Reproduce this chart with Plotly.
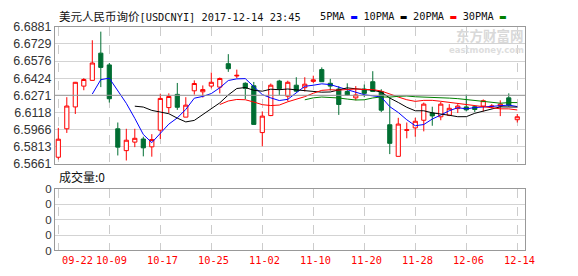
import plotly.graph_objects as go
import pandas as pd

W, H = 578, 276

dates = [
    "2017-09-22", "2017-09-25", "2017-09-26", "2017-09-27", "2017-09-28", "2017-09-29",
    "2017-10-09", "2017-10-10", "2017-10-11", "2017-10-12", "2017-10-13", "2017-10-16",
    "2017-10-17", "2017-10-18", "2017-10-19", "2017-10-20", "2017-10-23", "2017-10-24",
    "2017-10-25", "2017-10-26", "2017-10-27", "2017-10-30", "2017-10-31", "2017-11-01",
    "2017-11-02", "2017-11-03", "2017-11-06", "2017-11-07", "2017-11-08", "2017-11-09",
    "2017-11-10", "2017-11-13", "2017-11-14", "2017-11-15", "2017-11-16", "2017-11-17",
    "2017-11-20", "2017-11-21", "2017-11-22", "2017-11-23", "2017-11-24", "2017-11-27",
    "2017-11-28", "2017-11-29", "2017-11-30", "2017-12-01", "2017-12-04", "2017-12-05",
    "2017-12-06", "2017-12-07", "2017-12-08", "2017-12-11", "2017-12-12", "2017-12-13",
    "2017-12-14",
]
opens = [
    6.5718, 6.5972, 6.6167, 6.6353, 6.6404, 6.6647, 6.6542, 6.5972, 6.5777, 6.5853,
    6.5881, 6.5811, 6.5960, 6.6161, 6.6279, 6.6076, 6.6311, 6.6302, 6.6353, 6.6344,
    6.6553, 6.6443, 6.6378, 6.6356, 6.5938, 6.6090, 6.6398, 6.6263, 6.6361, 6.6339,
    6.6395, 6.6500, 6.6378, 6.6327, 6.6305, 6.6248, 6.6327, 6.6392, 6.6305, 6.6008,
    6.5726, 6.5958, 6.5980, 6.6048, 6.6113, 6.6079, 6.6093, 6.6152, 6.6167, 6.6169,
    6.6175, 6.6169, 6.6175, 6.6248, 6.6053,
]
highs = [
    6.5980, 6.6254, 6.6390, 6.6424, 6.6762, 6.6839, 6.6559, 6.6028, 6.5972, 6.5972,
    6.5901, 6.5924, 6.6285, 6.6288, 6.6381, 6.6254, 6.6404, 6.6359, 6.6474, 6.6429,
    6.6638, 6.6500, 6.6387, 6.6390, 6.6127, 6.6376, 6.6409, 6.6401, 6.6432, 6.6432,
    6.6446, 6.6520, 6.6418, 6.6353, 6.6378, 6.6353, 6.6367, 6.6486, 6.6325, 6.6254,
    6.6070, 6.6028, 6.6070, 6.6206, 6.6169, 6.6212, 6.6192, 6.6192, 6.6277, 6.6175,
    6.6234, 6.6192, 6.6226, 6.6288, 6.6104,
]
lows = [
    6.5698, 6.5935, 6.6104, 6.6316, 6.6404, 6.6344, 6.6206, 6.5734, 6.5689, 6.5808,
    6.5726, 6.5723, 6.5881, 6.6113, 6.6141, 6.6076, 6.6277, 6.6251, 6.6333, 6.6288,
    6.6480, 6.6424, 6.6237, 6.6011, 6.5816, 6.6085, 6.6274, 6.6217, 6.6300, 6.6305,
    6.6381, 6.6390, 6.6313, 6.6096, 6.6270, 6.6226, 6.6254, 6.6300, 6.6121, 6.5746,
    6.5726, 6.5887, 6.5901, 6.5949, 6.5999, 6.6048, 6.6085, 6.6113, 6.6127, 6.6121,
    6.6127, 6.6155, 6.6085, 6.6169, 6.6028,
]
closes = [
    6.5879, 6.6175, 6.6387, 6.6412, 6.6559, 6.6520, 6.6240, 6.5808, 6.5870, 6.5887,
    6.5802, 6.5876, 6.6243, 6.6260, 6.6164, 6.6183, 6.6376, 6.6322, 6.6387, 6.6421,
    6.6508, 6.6449, 6.6333, 6.6011, 6.6085, 6.6361, 6.6330, 6.6387, 6.6308, 6.6370,
    6.6409, 6.6392, 6.6353, 6.6189, 6.6274, 6.6274, 6.6288, 6.6305, 6.6138, 6.5842,
    6.6014, 6.5963, 6.6039, 6.6192, 6.6087, 6.6192, 6.6155, 6.6175, 6.6141, 6.6144,
    6.6223, 6.6175, 6.6192, 6.6183, 6.6079,
]
volumes = [
    0, 0, 0, 0, 0, 0, 0, 0, 0, 0, 0, 0, 0, 0, 0, 0, 0, 0, 0, 0, 0, 0, 0, 0, 0, 0, 0, 0,
    0, 0, 0, 0, 0, 0, 0, 0, 0, 0, 0, 0, 0, 0, 0, 0, 0, 0, 0, 0, 0, 0, 0, 0, 0, 0, 0,
]
ma_windows = [5, 10, 20, 30]
ma_names = ["5PMA", "10PMA", "20PMA", "30PMA"]
ma_colors = ["#0000ff", "#000000", "#ff0000", "#008000"]
price_ticks = [6.5661, 6.5813, 6.5966, 6.6118, 6.6271, 6.6424, 6.6576, 6.6729, 6.6881]
price_labels = ["6.5661", "6.5813", "6.5966", "6.6118", "6.6271", "6.6424", "6.6576", "6.6729", "6.6881"]
date_ticks = dates[::6]
date_labels = [d[5:] for d in date_ticks]
vol_ticks = [0, 1, 2, 3, 4]
vol_labels = ["0", "0", "0", "0", "0"]
title_cn = "美元人民币询价"
title_code = "[USDCNYI] 2017-12-14 23:45"
vol_title = "成交量:0"

RED = "#ff0000"
GREEN = "#006e32"
GRID = "#d3d3d3"
FRAME = "#999999"
TXT = "#333333"
MONO = "DejaVu Sans Mono"
CJK = "Noto Sans CJK SC"

X0, X1 = 55, 525
XR = [-0.39, 54.91]

fig = go.Figure()
fig.add_trace(go.Candlestick(
    x=dates, open=opens, high=highs, low=lows, close=closes,
    increasing=dict(line=dict(color=RED, width=1), fillcolor="#ffffff"),
    decreasing=dict(line=dict(color=GREEN, width=1), fillcolor=GREEN),
    whiskerwidth=0, xaxis="x", yaxis="y", showlegend=False, hoverinfo="skip",
))
close_s = pd.Series(closes)
for w, name, col in zip(ma_windows, ma_names, ma_colors):
    fig.add_trace(go.Scatter(
        x=dates, y=close_s.rolling(w).mean(), mode="lines", name=name,
        line=dict(color=col, width=1), xaxis="x", yaxis="y",
        showlegend=False, hoverinfo="skip",
    ))
fig.add_trace(go.Bar(x=dates, y=volumes, xaxis="x2", yaxis="y2",
                     marker_color=RED, showlegend=False, hoverinfo="skip"))

xcommon = dict(
    type="category", range=XR, tickvals=date_ticks, showticklabels=False,
    showgrid=True, griddash="dash", gridcolor="#cccccc", gridwidth=1,
    showline=True, mirror=True, linecolor=FRAME, linewidth=1, ticks="",
    zeroline=False, domain=[X0 / W, X1 / W], fixedrange=True,
)
fig.update_layout(
    width=W, height=H, margin=dict(l=0, r=0, t=0, b=0),
    paper_bgcolor="#ffffff", plot_bgcolor="#ffffff",
    boxgap=0.3,
    xaxis=dict(**xcommon, anchor="y", rangeslider=dict(visible=False)),
    xaxis2=dict(**xcommon, anchor="y2", matches="x"),
    yaxis=dict(
        domain=[(H - 165) / H, (H - 21) / H], range=[price_ticks[0], price_ticks[-1]],
        tickvals=price_ticks, ticktext=price_labels, showgrid=True, gridcolor=GRID,
        showline=True, mirror=True, linecolor=FRAME, linewidth=1, ticks="",
        zeroline=False, tickfont=dict(family="Liberation Sans", size=12.5, color=TXT),
        anchor="x", fixedrange=True,
    ),
    yaxis2=dict(
        domain=[(H - 256.5) / H, (H - 191.5) / H], range=[vol_ticks[0], vol_ticks[-1]],
        tickvals=vol_ticks, ticktext=vol_labels, showgrid=True, gridcolor=GRID,
        showline=True, mirror=True, linecolor=FRAME, linewidth=1, ticks="",
        zeroline=False, tickfont=dict(family="Liberation Sans", size=11.5, color=TXT),
        anchor="x2", fixedrange=True,
    ),
    showlegend=False,
)

# darker middle reference line
fig.add_shape(type="line", xref="x domain", yref="y", x0=0, x1=1,
              y0=price_ticks[4], y1=price_ticks[4], line=dict(color=FRAME, width=1))

# x tick labels (red)
for i, (d, lab) in enumerate(zip(date_ticks, date_labels)):
    fig.add_annotation(
        x=d, xref="x2", y=(H - 267) / H, yref="paper", text=lab, showarrow=False,
        xanchor="left" if i == 0 else "center", xshift=1.7 if i == 0 else 2,
        yanchor="middle", font=dict(family=MONO, size=10.3, color=RED),
    )

# title
fig.add_annotation(
    x=57 / W, xref="paper", y=(H - 10) / H, yref="paper", xanchor="left", yanchor="middle",
    showarrow=False,
    text=(f"<span style='font-family:{CJK};font-size:11.5px'>{title_cn}</span>"
          f"<span style='font-family:{MONO};font-size:10.3px'>{title_code}</span>"),
    font=dict(family=CJK, size=12, color="#111111"),
)

# MA legend
legend_txt = "".join(
    f"{n}<span style='color:{c}'> ▬ </span>" for n, c in zip(ma_names, ma_colors)
)
fig.add_annotation(
    x=318 / W, xref="paper", y=(H - 10) / H, yref="paper", xanchor="left", yanchor="middle",
    showarrow=False, text=legend_txt, font=dict(family=MONO, size=10.3, color="#111111"),
)

# volume title
fig.add_annotation(
    x=57 / W, xref="paper", y=(H - 179) / H, yref="paper", xanchor="left", yanchor="middle",
    showarrow=False, text=vol_title, font=dict(family=CJK, size=12, color="#111111"),
)

# watermark
fig.add_annotation(
    x=525 / W, xref="paper", y=(H - 29) / H, yref="paper", xanchor="right", yanchor="middle",
    showarrow=False, text="<b>东方财富网</b>", font=dict(family=CJK, size=13.5, color="#d9d9d9"),
    borderpad=0,
)
fig.add_annotation(
    x=525 / W, xref="paper", y=(H - 45) / H, yref="paper", xanchor="right", yanchor="middle",
    showarrow=False, text="<b>eastmoney.com</b>", font=dict(family="DejaVu Sans", size=8.5, color="#dddddd"),
    borderpad=0,
)

fig.write_html("out.html", config={"displayModeBar": False})
